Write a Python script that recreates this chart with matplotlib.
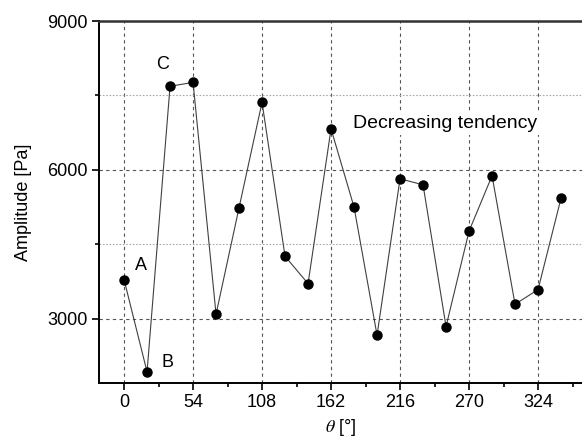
import matplotlib
matplotlib.use("Agg")
import matplotlib.pyplot as plt
from matplotlib.ticker import MultipleLocator

plt.rcParams['font.family'] = ['Liberation Sans', 'DejaVu Sans']
plt.rcParams['mathtext.fontset'] = 'stix'

theta = [0, 18, 36, 54, 72, 90, 108, 126, 144, 162, 180, 198, 216, 234, 252, 270, 288, 306, 324, 342]
amplitude = [3785, 1925, 7683, 7763, 3087, 5234, 7360, 4254, 3705, 6825,
             5247, 2664, 5818, 5697, 2839, 4763, 5879, 3288, 3584, 5428]
x_ticks = [0, 54, 108, 162, 216, 270, 324]
y_ticks = [3000, 6000, 9000]
point_labels = ['A', 'B', 'C']
label_theta = [0, 18, 36]

fig = plt.figure(figsize=(5.82, 4.37), dpi=100)
ax = fig.add_axes([99/582, 1-383/437, (582-99)/582, (383-21)/437])

ax.plot(theta, amplitude, color='#404040', lw=0.8, marker='o', ms=6.5,
        mfc='black', mec='black', zorder=3)

ax.set_xlim(-19.6, 358.4)
ax.set_ylim(1700, 9000)
ax.set_xticks(x_ticks)
ax.set_yticks(y_ticks)
ax.xaxis.set_minor_locator(MultipleLocator(27))
ax.yaxis.set_minor_locator(MultipleLocator(1500))

ax.grid(which='major', axis='both', color='#555555', ls=(0, (3, 3)), lw=0.8)
ax.grid(which='minor', axis='y', color='#aaaaaa', ls=(0, (1.5, 1.5)), lw=0.8)

ax.tick_params(which='major', direction='out', length=5, width=1.2, labelsize=13, pad=3)
ax.tick_params(which='minor', direction='out', length=3, width=1.2)
ax.tick_params(axis='y', which='minor', labelleft=False)

for s in ['left', 'bottom']:
    ax.spines[s].set_linewidth(1.4)
    ax.spines[s].set_color('black')
ax.spines['top'].set_linewidth(1.8)
ax.spines['top'].set_color('#333333')
ax.spines['right'].set_visible(False)

ax.set_ylabel('Amplitude [Pa]', fontsize=13, labelpad=11)
ax.set_xlabel(r'$\theta$ [°]', fontsize=13, labelpad=4)

offsets = [(12.2, 9.8), (15, 7), (-5.3, 16)]
for lab, th, (dx, dy) in zip(point_labels, label_theta, offsets):
    yv = amplitude[theta.index(th)]
    ax.annotate(lab, (th, yv), xytext=(dx, dy), textcoords='offset points',
                fontsize=13, ha='center', va='center')

ax.text(251.5, 6925, 'Decreasing tendency', fontsize=14, ha='center', va='center',
        bbox=dict(facecolor='white', edgecolor='none', pad=2), zorder=2.5)

fig.savefig('out.png', dpi=100)
